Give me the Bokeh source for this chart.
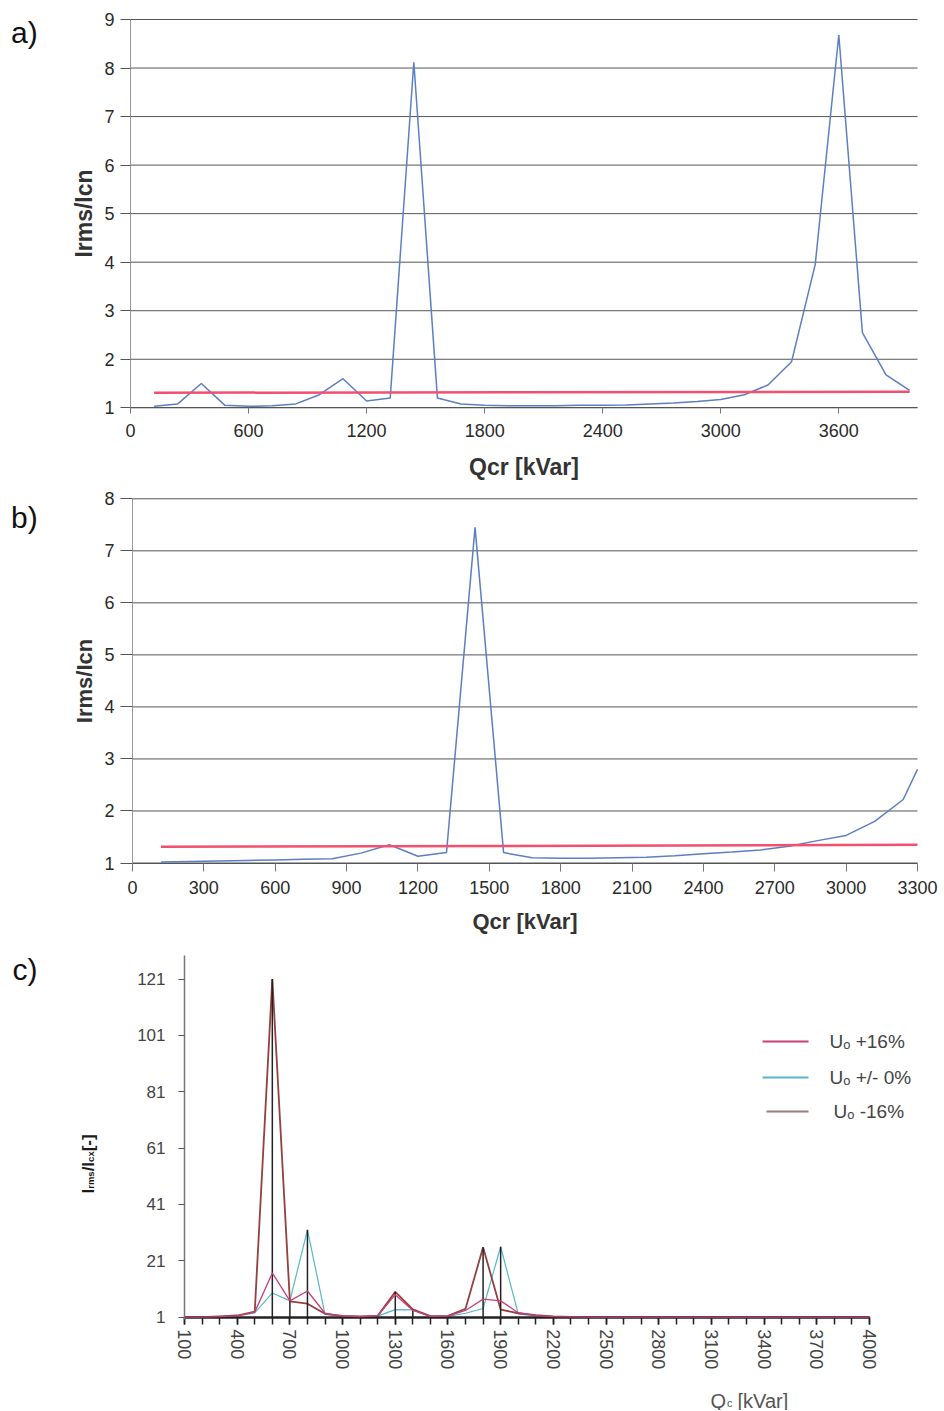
import math
from bokeh.plotting import figure
from bokeh.layouts import column
from bokeh.models import FixedTicker, Label, Range1d
from bokeh.embed import file_html
from bokeh.resources import INLINE

FONT = "Liberation Sans"

# ---------------- data: panel a ----------------
a_q = [120, 240, 360, 480, 600, 720, 840, 960, 1080, 1200, 1320, 1440, 1560, 1680,
       1800, 1920, 2040, 2160, 2280, 2400, 2520, 2640, 2760, 2880, 3000, 3120, 3240,
       3360, 3480, 3600, 3720, 3840, 3960]
a_ratio = [1.03, 1.08, 1.50, 1.05, 1.03, 1.04, 1.08, 1.27, 1.60, 1.14, 1.20, 8.12, 1.20,
           1.08, 1.05, 1.04, 1.04, 1.04, 1.05, 1.05, 1.06, 1.08, 1.10, 1.13, 1.17, 1.27,
           1.47, 1.95, 3.95, 8.68, 2.55, 1.68, 1.36]
a_limit_q = [120, 3960]
a_limit = [1.31, 1.33]
a_xticks = [0, 600, 1200, 1800, 2400, 3000, 3600]
a_yticks = [1, 2, 3, 4, 5, 6, 7, 8, 9]
a_xspan = (0, 4000)

# ---------------- data: panel b ----------------
b_q = [120, 240, 360, 480, 600, 720, 840, 960, 1080, 1200, 1320, 1440, 1560, 1680,
       1800, 1920, 2040, 2160, 2280, 2400, 2520, 2640, 2760, 2880, 3000, 3120, 3240, 3300]
b_ratio = [1.02, 1.03, 1.04, 1.05, 1.06, 1.07, 1.08, 1.19, 1.35, 1.13, 1.20, 7.45, 1.20,
           1.10, 1.09, 1.09, 1.10, 1.11, 1.14, 1.18, 1.21, 1.25, 1.32, 1.43, 1.53, 1.80,
           2.22, 2.80]
b_limit_q = [120, 3300]
b_limit = [1.31, 1.35]
b_xticks = [0, 300, 600, 900, 1200, 1500, 1800, 2100, 2400, 2700, 3000, 3300]
b_yticks = [1, 2, 3, 4, 5, 6, 7, 8]
b_xspan = (0, 3300)

# ---------------- data: panel c ----------------
c_q = [100, 200, 300, 400, 500, 600, 700, 800, 900, 1000, 1100, 1200, 1300, 1400,
       1500, 1600, 1700, 1800, 1900, 2000, 2100, 2200, 2300, 2400, 2500, 2600, 2700,
       2800, 2900, 3000, 3100, 3200, 3300, 3400, 3500, 3600, 3700, 3800, 3900, 4000]
c_plus16 = [1.0, 1.0, 1.2, 1.5, 2.8, 16.7, 6.8, 10.3, 2.4, 1.4, 1.2, 1.5, 9.0, 3.4,
            1.3, 1.4, 3.4, 7.4, 6.8, 2.6, 1.6, 1.2, 1.1, 1.0, 1.0, 1.0, 1.0,
            1.0, 1.0, 1.0, 1.0, 1.0, 1.0, 1.0, 1.0, 1.0, 1.0, 1.0, 1.0, 1.0]
c_zero = [1.0, 1.0, 1.2, 1.5, 2.5, 9.6, 6.8, 32.0, 2.0, 1.4, 1.2, 1.4, 3.7, 3.6,
          1.3, 1.3, 2.4, 4.1, 26.0, 2.2, 1.5, 1.2, 1.1, 1.0, 1.0, 1.0, 1.0,
          1.0, 1.0, 1.0, 1.0, 1.0, 1.0, 1.0, 1.0, 1.0, 1.0, 1.0, 1.0, 1.0]
c_minus16 = [1.0, 1.0, 1.3, 1.6, 3.0, 121.0, 6.6, 5.8, 2.2, 1.5, 1.3, 1.5, 10.0, 3.8,
             1.4, 1.5, 4.0, 25.8, 3.7, 2.4, 1.7, 1.3, 1.1, 1.0, 1.0, 1.0, 1.0,
             1.0, 1.0, 1.0, 1.0, 1.0, 1.0, 1.0, 1.0, 1.0, 1.0, 1.0, 1.0, 1.0]
c_drop_q = [600, 700, 800, 1300, 1400, 1800, 1900]
c_drop_top = [121.0, 6.8, 32.0, 10.0, 3.8, 25.8, 26.0]
c_xticks = [100, 400, 700, 1000, 1300, 1600, 1900, 2200, 2500, 2800, 3100, 3400, 3700, 4000]
c_yticks = [1, 21, 41, 61, 81, 101, 121]
c_names = ["U\u2092 +16%", "U\u2092 +/- 0%", "U\u2092 -16%"]

C_PLUS = "#c8407a"
C_ZERO = "#56b8c8"
C_MINUS = "#94403c"
BLUE = "#5b7fc2"
RED = "#f2506e"

W = 944


def frame_ranges(H, T, xp0, xp1, x0, x1, yp0, yp1, y0, y1):
    """Frame covers the whole canvas; (xp0 -> x0, xp1 -> x1), (yp0 -> y0, yp1 -> y1) in page px."""
    sx = (x1 - x0) / (xp1 - xp0)
    xs = x0 - xp0 * sx
    xe = x0 + (W - xp0) * sx
    sy = (y1 - y0) / (yp0 - yp1)
    ly0 = yp0 - T
    ytop = y0 + ly0 * sy
    ybot = y0 - (H - ly0) * sy

    def fx(px):
        return xs + px * sx

    def fy(py):
        return ytop - (py - T) * sy
    return (xs, xe), (ybot, ytop), fx, fy


def new_fig(H, xr, yr):
    p = figure(width=W, height=H, x_range=Range1d(*xr), y_range=Range1d(*yr),
               output_backend="svg", toolbar_location=None, min_border=0)
    p.outline_line_color = None
    p.grid.visible = False
    p.background_fill_color = "white"
    p.border_fill_color = "white"
    return p


def style_ab(p, xticks, yticks, xspan, ybounds, ytick_out, xtick_out, lab_size, xstand, ystand):
    p.xaxis.ticker = FixedTicker(ticks=xticks)
    p.yaxis.ticker = FixedTicker(ticks=yticks)
    p.xaxis.fixed_location = ybounds[0]
    p.yaxis.fixed_location = xspan[0]
    p.xaxis.bounds = xspan
    p.yaxis.bounds = ybounds
    for ax in (p.xaxis[0], p.yaxis[0]):
        ax.major_label_text_font = FONT
        ax.major_label_text_font_size = "18px"
        ax.major_label_text_color = "#2a2a2a"
        ax.axis_label_text_font = FONT
        ax.axis_label_text_font_style = "bold"
        ax.axis_label_text_font_size = lab_size
        ax.axis_label_text_color = "#333333"
        ax.minor_tick_line_color = None
        ax.major_tick_in = 0
    p.xaxis.axis_line_color = "#555555"
    p.xaxis.major_tick_line_color = "#777777"
    p.xaxis.major_tick_out = xtick_out
    p.xaxis.major_label_standoff = 10
    p.xaxis.axis_label_standoff = xstand
    p.yaxis.axis_line_color = "#999999"
    p.yaxis.major_tick_line_color = "#555555"
    p.yaxis.major_tick_out = ytick_out
    p.yaxis.major_label_standoff = 6
    p.yaxis.axis_label_standoff = ystand
    # horizontal grid lines across the plotting area
    p.segment(x0=[xspan[0]] * len(yticks), y0=yticks, x1=[xspan[1]] * len(yticks), y1=yticks,
              line_color="#555555", line_width=1, level="underlay")


def panel_letter(p, fx, fy, px, py, txt):
    p.add_layout(Label(x=fx(px), y=fy(py), text=txt, text_font=FONT, text_font_size="30px",
                       text_color="#111111", text_baseline="alphabetic", text_align="left"))


# ---------------- panel a ----------------
HA, TA = 482, 0
a_xr, a_yr, fxa, fya = frame_ranges(HA, TA, 130, 917, 0, 4000, 407.3, 19.0, 1, 9)
pa = new_fig(HA, a_xr, a_yr)
style_ab(pa, a_xticks, a_yticks, a_xspan, (1, 9), 10, 6, "23px", 14, 4)
pa.xaxis.axis_label = "Qcr [kVar]"
pa.yaxis.axis_label = "Irms/Icn"
pa.line(a_q, a_ratio, line_color=BLUE, line_width=1.5)
pa.line(a_limit_q, a_limit, line_color=RED, line_width=2.5)
panel_letter(pa, fxa, fya, 10.5, 31.5, "a)")

# ---------------- panel b ----------------
HB, TB = 458, 482
b_xr, b_yr, fxb, fyb = frame_ranges(HB, TB, 132, 917, 0, 3300, 862.5, 498.3, 1, 8)
pb = new_fig(HB, b_xr, b_yr)
style_ab(pb, b_xticks, b_yticks, b_xspan, (1, 8), 12, 8, "22px", 11, 4)
pb.xaxis.axis_label = "Qcr [kVar]"
pb.yaxis.axis_label = "Irms/Icn"
pb.line(b_q, b_ratio, line_color=BLUE, line_width=1.5)
pb.line(b_limit_q, b_limit, line_color=RED, line_width=2.5)
panel_letter(pb, fxb, fyb, 10.5, 516.5, "b)")

# ---------------- panel c ----------------
HC, TC = 470, 940
c_xr, c_yr, fxc, fyc = frame_ranges(HC, TC, 184, 869, 100, 4000, 1316.7, 978.5, 1, 121)
pc = new_fig(HC, c_xr, c_yr)
pc.xaxis.ticker = FixedTicker(ticks=c_xticks, minor_ticks=c_q)
pc.yaxis.ticker = FixedTicker(ticks=c_yticks)
pc.xaxis.fixed_location = 1
pc.yaxis.fixed_location = 100
pc.xaxis.bounds = (100, 4000)
pc.yaxis.bounds = (0.3, fyc(955))
xa = pc.xaxis[0]
xa.major_label_orientation = "vertical"
xa.major_label_text_font = FONT
xa.major_label_text_font_size = "18px"
xa.major_label_text_color = "#444444"
xa.major_label_standoff = 5
xa.axis_line_color = "#222222"
xa.axis_line_width = 2.5
xa.major_tick_out = 7
xa.major_tick_in = 0
xa.minor_tick_out = 7
xa.minor_tick_in = 0
xa.major_tick_line_color = "#222222"
xa.minor_tick_line_color = "#222222"
xa.major_tick_line_width = 1.5
xa.minor_tick_line_width = 1.5
ya = pc.yaxis[0]
ya.major_label_text_font = FONT
ya.major_label_text_font_size = "17px"
ya.major_label_text_color = "#444444"
ya.major_label_standoff = 13
ya.axis_line_color = "#777777"
ya.axis_line_width = 1.5
ya.major_tick_out = 6
ya.major_tick_in = 0
ya.major_tick_line_color = "#555555"
ya.minor_tick_line_color = None

pc.line(c_q, c_zero, line_color=C_ZERO, line_width=1.2)
pc.line(c_q, c_minus16, line_color=C_MINUS, line_width=1.8)
pc.segment(x0=c_drop_q, y0=[1.0] * len(c_drop_q), x1=c_drop_q, y1=c_drop_top,
           line_color="#222222", line_width=1.5)
pc.line(c_q, c_plus16, line_color=C_PLUS, line_width=1.3, level="annotation")
panel_letter(pc, fxc, fyc, 12, 969, "c)")

# legend (drawn by hand: it reaches past the plotting area in the original)
leg_colors = [C_PLUS, C_ZERO, "#a07c7c"]
leg_y = [1041, 1077, 1111]
leg_x0 = [762, 762, 766]
leg_tx = [829, 829, 833]
for name, col, yy, x0, tx in zip(c_names, leg_colors, leg_y, leg_x0, leg_tx):
    pc.segment(x0=[fxc(x0)], y0=[fyc(yy)], x1=[fxc(808)], y1=[fyc(yy)],
               line_color=col, line_width=1.8)
    pc.add_layout(Label(x=fxc(tx), y=fyc(yy), text=name, text_font=FONT,
                        text_font_size="19px", text_color="#444444",
                        text_baseline="middle", text_align="left"))

# y axis label: I_rms / I_cx [-]  (rotated, with subscripts)
ylab_parts = [("I", 17, 0.278, 0.0), ("rms", 9.5, 1.834, 2.5), ("/I", 17, 0.556, 0.0),
              ("cx", 9.5, 1.112, 2.5), (" [-]", 17, 1.277, 0.0)]
ypos = 1193.0
for txt, size, em, drop in ylab_parts:
    pc.add_layout(Label(x=fxc(87.5 + drop), y=fyc(ypos), text=txt, text_font=FONT,
                        text_font_size=f"{size}px", text_font_style="bold",
                        text_color="#1a1a1a", angle=math.pi / 2,
                        text_align="left", text_baseline="alphabetic"))
    ypos -= size * em

# x axis label: Q_c [kVar]
pc.add_layout(Label(x=fxc(710), y=fyc(1400), text="Q", text_font=FONT, text_font_size="20px",
                    text_color="#555555", text_baseline="alphabetic", text_align="left"))
pc.add_layout(Label(x=fxc(726.5), y=fyc(1402.5), text="c", text_font=FONT, text_font_size="11px",
                    text_color="#555555", text_baseline="alphabetic", text_align="left"))
pc.add_layout(Label(x=fxc(737), y=fyc(1400), text="[kVar]", text_font=FONT, text_font_size="20px",
                    text_color="#555555", text_baseline="alphabetic", text_align="left"))

layout = column(pa, pb, pc, spacing=0)
open("out.html", "w").write(file_html(layout, INLINE))
